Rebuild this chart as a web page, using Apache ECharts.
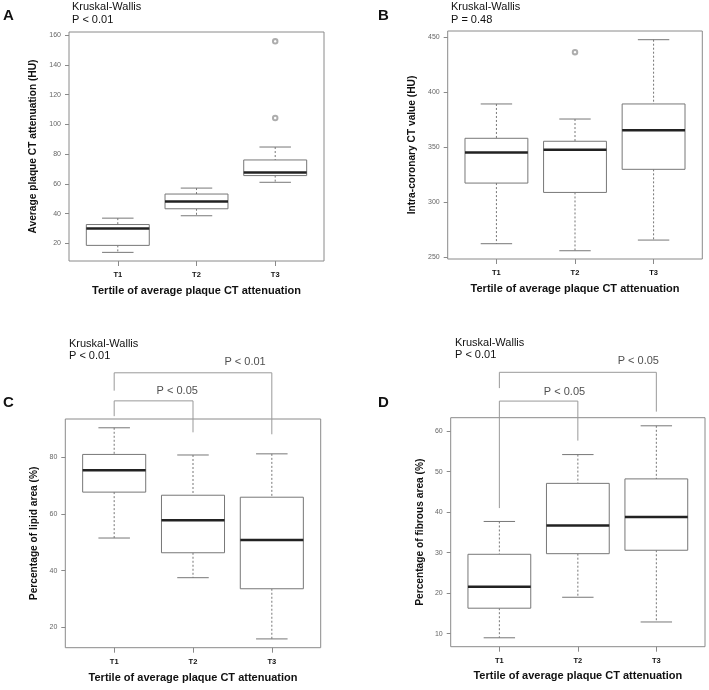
<!DOCTYPE html>
<html><head><meta charset="utf-8">
<script src="https://cdn.jsdelivr.net/npm/echarts@6/dist/echarts.min.js"></script>
<style>html,body{margin:0;padding:0;background:#fff}#c{width:709px;height:690px}</style>
</head><body><div id="c"></div>
<script>
// ---------- data ----------
const categories = ['T1', 'T2', 'T3'];
// each box: [lower whisker, Q1, median, Q3, upper whisker]
const attenuationBoxes = [[14, 18.7, 30, 32.7, 37], [38.6, 43.3, 48.2, 53.2, 57.2], [61.1, 65.6, 67.6, 76.1, 84.8]];
const attenuationOutliers = [['T3', 104.3], ['T3', 155.8]];
const intraBoxes = [[262.4, 317.5, 345.3, 358.2, 389.4], [256, 309, 347.8, 355.5, 375.7], [265.7, 330, 365.5, 389.4, 447.8]];
const intraOutliers = [['T2', 436.4]];
const lipidBoxes = [[51.5, 67.7, 75.4, 81, 90.4], [37.5, 46.3, 57.8, 66.6, 80.8], [15.9, 33.6, 50.8, 65.9, 81.2]];
const lipidOutliers = [];
const fibrousBoxes = [[9, 16.3, 21.6, 29.6, 37.7], [19, 29.75, 36.7, 47.1, 54.2], [12.9, 30.6, 38.8, 48.2, 61.3]];
const fibrousOutliers = [];
const attenuationTicks = [20, 40, 60, 80, 100, 120, 140, 160];
const intraTicks = [250, 300, 350, 400, 450];
const lipidTicks = [20, 40, 60, 80];
const fibrousTicks = [10, 20, 30, 40, 50, 60];
// pairwise comparison brackets (value units of each panel's y axis)
const lipidBrackets = [
  {from: 'T1', to: 'T3', top: 109.8, fromEnd: 103.5, toEnd: 88.1, label: 'P < 0.01', labelX: 2.66, labelY: 113.7},
  {from: 'T1', to: 'T2', top: 99.9, fromEnd: 94.5, toEnd: 88.8, label: 'P < 0.05', labelX: 1.80, labelY: 103.3}
];
const fibrousBrackets = [
  {from: 'T1', to: 'T3', top: 74.5, fromEnd: 70.6, toEnd: 64.8, label: 'P < 0.05', labelX: 2.77, labelY: 77.4},
  {from: 'T1', to: 'T2', top: 67.4, fromEnd: 41, toEnd: 57.65, label: 'P < 0.05', labelX: 1.83, labelY: 69.75}
];

// ---------- layout ----------
const FONT = '"Liberation Sans", Arial, sans-serif';
const BOX_WIDTH = 0.8;
const panels = [
  {boxes: attenuationBoxes, outliers: attenuationOutliers, ticks: attenuationTicks, brackets: [],
   yName: 'Average plaque CT attenuation (HU)', grid: {left: 69, top: 32, width: 255, height: 229}, ymin: 8.2, ymax: 162.1, yGap: 31, xGap: 24},
  {boxes: intraBoxes, outliers: intraOutliers, ticks: intraTicks, brackets: [],
   yName: 'Intra-coronary CT value (HU)', grid: {left: 447.7, top: 31, width: 254.6, height: 228}, ymin: 248.5, ymax: 455.7, yGap: 31, xGap: 24},
  {boxes: lipidBoxes, outliers: lipidOutliers, ticks: lipidTicks, brackets: lipidBrackets,
   yName: 'Percentage of lipid area (%)', grid: {left: 65.3, top: 419, width: 255.4, height: 228.7}, ymin: 12.8, ymax: 93.5, yGap: 26, xGap: 25},
  {boxes: fibrousBoxes, outliers: fibrousOutliers, ticks: fibrousTicks, brackets: fibrousBrackets,
   yName: 'Percentage of fibrous area (%)', grid: {left: 450.7, top: 417.7, width: 254.3, height: 229}, ymin: 6.8, ymax: 63.3, yGap: 26, xGap: 24}
];

const catX = name => categories.indexOf(name) + 1;

function renderBox(params, api) {
  const x = api.value(0);
  const p = i => api.coord([x, api.value(i)]);
  const lo = p(1), q1 = p(2), md = p(3), q3 = p(4), hi = p(5);
  const w = api.size([BOX_WIDTH, 0])[0];
  const cx = lo[0];
  const line = (x1, y1, x2, y2, style) => ({type: 'line', shape: {x1, y1, x2, y2}, style});
  const dash = {stroke: '#777', lineWidth: 1, lineDash: [2, 2]};
  const solid = {stroke: '#777', lineWidth: 1};
  return {type: 'group', children: [
    line(cx, hi[1], cx, q3[1], dash),
    line(cx, q1[1], cx, lo[1], dash),
    line(cx - w / 4, hi[1], cx + w / 4, hi[1], solid),
    line(cx - w / 4, lo[1], cx + w / 4, lo[1], solid),
    {type: 'rect', shape: {x: cx - w / 2, y: q3[1], width: w, height: q1[1] - q3[1]},
     style: {fill: '#fff', stroke: '#777', lineWidth: 1}},
    line(cx - w / 2, md[1], cx + w / 2, md[1], {stroke: '#222', lineWidth: 2.5})
  ]};
}

const grids = [], xAxes = [], yAxes = [], series = [];
panels.forEach((pn, i) => {
  grids.push(Object.assign({show: true, borderColor: '#8a8a8a', borderWidth: 1, backgroundColor: 'transparent'}, pn.grid));
  xAxes.push({
    type: 'value', gridIndex: i, min: 0.38, max: 3.62,
    name: 'Tertile of average plaque CT attenuation', nameLocation: 'middle', nameGap: pn.xGap,
    nameTextStyle: {fontFamily: FONT, fontWeight: 'bold', fontSize: 11, color: '#111'},
    axisLine: {show: false}, splitLine: {show: false},
    axisTick: {show: true, length: 5, lineStyle: {color: '#8a8a8a'}, customValues: [1, 2, 3]},
    axisLabel: {customValues: [1, 2, 3], formatter: v => categories[Math.round(v) - 1] || '',
                fontFamily: FONT, fontWeight: 'bold', fontSize: 7.5, color: '#111', margin: 10}
  });
  yAxes.push({
    type: 'value', gridIndex: i, min: pn.ymin, max: pn.ymax,
    name: pn.yName, nameLocation: 'middle', nameGap: pn.yGap, nameRotate: 90,
    nameTextStyle: {fontFamily: FONT, fontWeight: 'bold', fontSize: 10.2, color: '#111'},
    axisLine: {show: false}, splitLine: {show: false},
    axisTick: {show: true, length: 4, lineStyle: {color: '#8a8a8a'}, customValues: pn.ticks},
    axisLabel: {customValues: pn.ticks, fontFamily: FONT, fontSize: 7, color: '#666', margin: 8}
  });
  series.push({
    type: 'custom', xAxisIndex: i, yAxisIndex: i, renderItem: renderBox, clip: false,
    encode: {x: 0, y: [1, 2, 3, 4, 5]},
    data: pn.boxes.map((b, k) => [k + 1].concat(b))
  });
  if (pn.outliers.length) {
    series.push({
      type: 'scatter', xAxisIndex: i, yAxisIndex: i, symbol: 'emptyCircle', symbolSize: 4.5, z: 6,
      itemStyle: {color: '#999', borderColor: '#999', borderWidth: 0.9},
      data: pn.outliers.map(o => [catX(o[0]), o[1]])
    });
  }
  pn.brackets.forEach(br => {
    series.push({
      type: 'line', xAxisIndex: i, yAxisIndex: i, symbol: 'none', clip: false, silent: true, z: 5,
      lineStyle: {color: '#999', width: 1},
      data: [[catX(br.from), br.fromEnd], [catX(br.from), br.top], [catX(br.to), br.top], [catX(br.to), br.toEnd]]
    });
    series.push({
      type: 'scatter', xAxisIndex: i, yAxisIndex: i, symbolSize: 0, clip: false, silent: true,
      label: {show: true, position: 'inside', formatter: br.label, fontFamily: FONT, fontSize: 11, color: '#222'},
      data: [[br.labelX, br.labelY]]
    });
  });
});

const txt = (text, x, y, size, bold) => ({
  type: 'text', x, y, style: {text, fontFamily: FONT, fontSize: size, fontWeight: bold ? 'bold' : 'normal',
  fill: '#111', verticalAlign: 'middle', align: 'left'}
});
const graphic = [
  txt('A', 3, 16, 15, true), txt('B', 378, 16, 15, true),
  txt('C', 3, 403, 15, true), txt('D', 378, 403, 15, true),
  txt('Kruskal-Wallis', 72, 7, 11), txt('P < 0.01', 72, 19.7, 11),
  txt('Kruskal-Wallis', 451, 7, 11), txt('P = 0.48', 451, 19.7, 11),
  txt('Kruskal-Wallis', 69, 344, 11), txt('P < 0.01', 69, 355.7, 11),
  txt('Kruskal-Wallis', 455, 343, 11), txt('P < 0.01', 455, 355, 11)
];

const chart = echarts.init(document.getElementById('c'), null, {renderer: 'canvas'});
chart.setOption({
  animation: false, backgroundColor: '#fff',
  grid: grids, xAxis: xAxes, yAxis: yAxes, series, graphic
});
</script></body></html>
